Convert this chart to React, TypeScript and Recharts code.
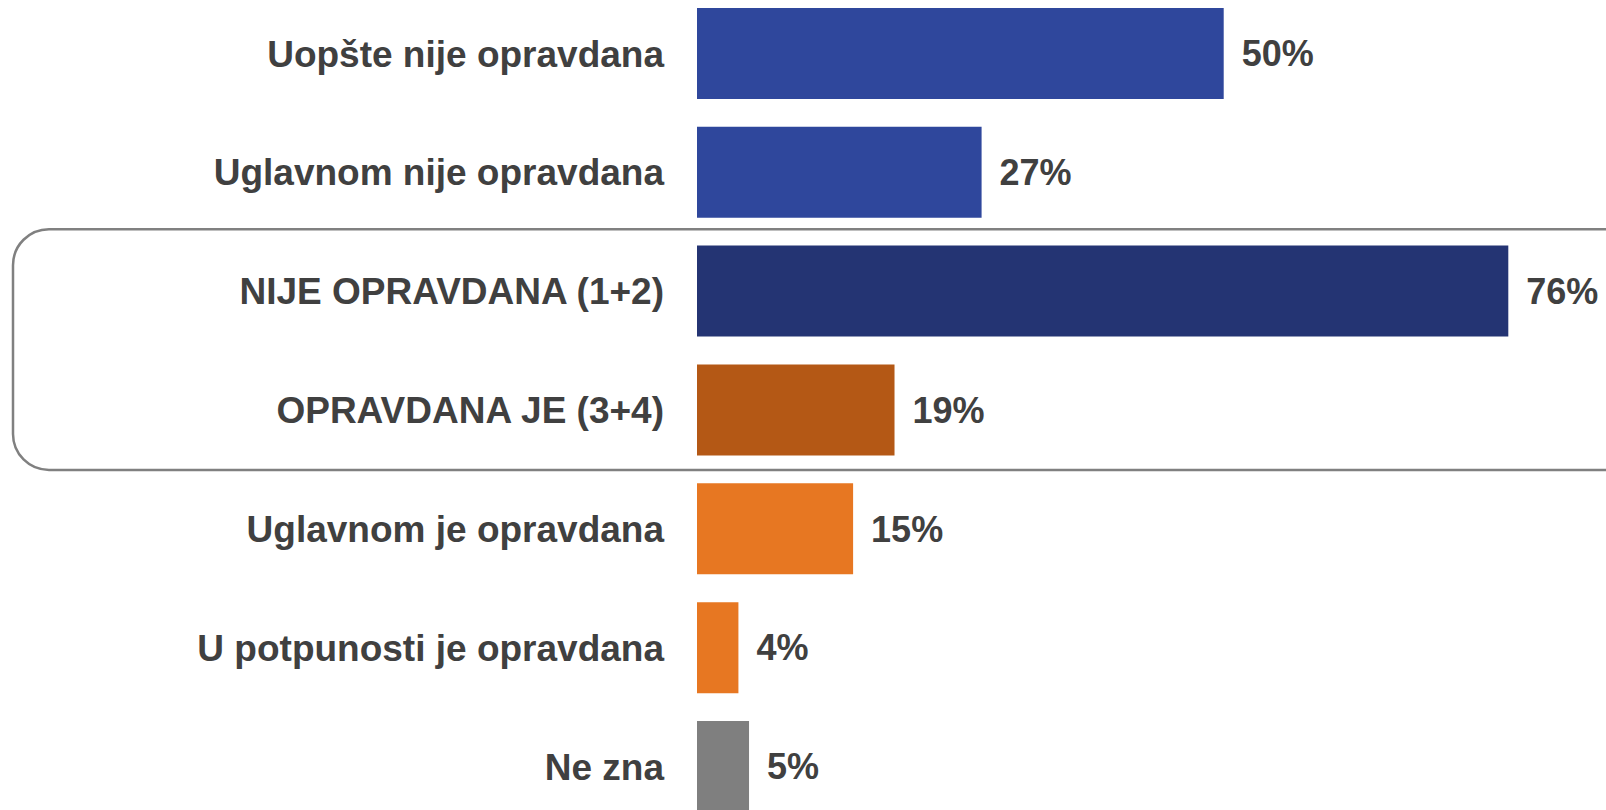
import {Bar, BarChart, Cell, LabelList, ReferenceArea, XAxis, YAxis} from "recharts";

const kategorije = [
    "Uopšte nije opravdana",
    "Uglavnom nije opravdana",
    "NIJE OPRAVDANA (1+2)",
    "OPRAVDANA JE (3+4)",
    "Uglavnom je opravdana",
    "U potpunosti je opravdana",
    "Ne zna",
]
// procenti procijenjeni sa slike, na etiketama zaokruzeni
const procenti = [49.6, 26.8, 76.4, 18.6, 14.7, 3.9, 4.9]
const boje = ["#2F479C", "#2F479C", "#243473", "#B45815", "#E77722", "#E77722", "#7F7F7F"]

const data = kategorije.map((naziv, i) => ({naziv, procenat: procenti[i]}))

const font = "'Liberation Sans', Arial, sans-serif"
const tekstOsa = {fill: "#404040", fontSize: 37, fontWeight: 700, fontFamily: font}
const tekstVrijednost = {fill: "#404040", fontSize: 36, fontWeight: 700, fontFamily: font}

const Okvir = (props: any) => {
    const {y, height} = props
    return (
        <rect x={13} y={y - 2.5} width={1630} height={height + 3} rx={36} ry={36}
              fill="none" stroke="#808080" strokeWidth={2.5} />
    )
}

const App = () => {
    return (
        <div style={{position: "absolute", left: 0, top: 0, width: 1606, height: 810, overflow: "hidden", background: "#fff"}}>
            <div style={{position: "absolute", left: 0, top: -6}}>
                <BarChart width={1606} height={832} data={data} layout="vertical"
                          margin={{top: 0, right: 0, bottom: 0, left: 0}} barCategoryGap="11.7%">
                    <XAxis type="number" domain={[0, 85.6]} hide />
                    <YAxis type="category" dataKey="naziv" width={697} axisLine={false} tickLine={false}
                           tickSize={0} tickMargin={33} tick={tekstOsa} interval={0} />
                    <ReferenceArea y1="NIJE OPRAVDANA (1+2)" y2="OPRAVDANA JE (3+4)" x1={0} x2={85.6}
                                   ifOverflow="visible" shape={<Okvir />} />
                    <Bar dataKey="procenat" isAnimationActive={false}>
                        {data.map((d, i) => <Cell key={d.naziv} fill={boje[i]} />)}
                        <LabelList dataKey="procenat" position="right" offset={18}
                                   formatter={(v: any) => `${Math.round(v)}%`} style={tekstVrijednost} />
                    </Bar>
                </BarChart>
            </div>
        </div>
    )
}

export default App
